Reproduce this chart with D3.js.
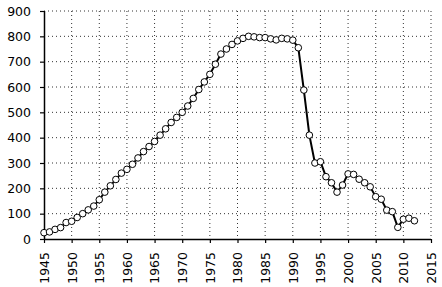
<!DOCTYPE html>
<html>
<head>
<meta charset="utf-8">
<script src="https://cdn.jsdelivr.net/npm/d3@7"></script>
<style>
  html, body { margin: 0; padding: 0; background: #fff; }
  svg { display: block; }
  text { font-family: "DejaVu Sans", sans-serif; font-size: 12.5px; fill: #000; }
</style>
</head>
<body>
<svg id="chart" width="442" height="287"></svg>
<script>
const years = d3.range(1945, 2013);
const values = [
  25, 28, 38, 45, 65, 70, 85, 100, 115, 130,
  155, 185, 210, 235, 260, 275, 295, 320, 345, 365,
  385, 410, 435, 460, 480, 500, 525, 555, 590, 620,
  650, 690, 730, 750, 768, 782, 792, 800, 798, 795,
  795, 790, 786, 792, 790, 785, 755, 588, 410, 300,
  305, 246, 222, 185, 213, 257, 255, 236, 222, 206,
  167, 157, 114, 108, 46, 78, 82, 72
];
const xTicks = d3.range(1945, 2016, 5);
const yTicks = d3.range(0, 901, 100);

(function () {
const svg = d3.select("#chart");
const mLeft = 44, mRight = 431, mTop = 11, mBottom = 239;
const x = d3.scaleLinear().domain([1945, 2015]).range([mLeft, mRight]);
const y = d3.scaleLinear().domain([0, 900]).range([mBottom, mTop]);

// gridlines
const grid = svg.append("g");
grid.selectAll("line.h").data(yTicks.filter(d => d > 0)).join("line")
  .attr("x1", mLeft).attr("x2", mRight)
  .attr("y1", d => y(d)).attr("y2", d => y(d))
  .attr("stroke", "#333").attr("stroke-width", 1).attr("stroke-dasharray", "1,3");
grid.selectAll("line.v").data(xTicks.filter(d => d > 1945)).join("line")
  .attr("y1", mTop).attr("y2", mBottom)
  .attr("x1", d => x(d)).attr("x2", d => x(d))
  .attr("stroke", "#333").attr("stroke-width", 1).attr("stroke-dasharray", "1,3");

// axes
const yAxis = d3.axisLeft(y).tickValues(yTicks).tickSize(4).tickPadding(9).tickFormat(d3.format("d"));
const gy = svg.append("g").attr("transform", `translate(${mLeft},0)`).call(yAxis);
const xAxis = d3.axisBottom(x).tickValues(xTicks).tickSize(4).tickFormat(d3.format("d"));
const gx = svg.append("g").attr("transform", `translate(0,${mBottom})`).call(xAxis);
[gx, gy].forEach(g => {
  g.select(".domain").attr("stroke", "#000").attr("stroke-width", 1.5);
  g.selectAll(".tick line").attr("stroke", "#000").attr("stroke-width", 1.2);
  g.selectAll("text").style("font-family", "DejaVu Sans, sans-serif").style("font-size", "12.5px").attr("fill", "#000");
});
gx.select(".domain").attr("d", `M${mLeft},0.5H${mRight}`);
gy.select(".domain").attr("d", `M0.5,${mBottom}V${mTop}`);
gx.selectAll("text")
  .attr("transform", "rotate(-90)")
  .attr("text-anchor", "end")
  .attr("x", -13)
  .attr("y", 0)
  .attr("dy", "0.35em");

// line + markers
const data = years.map((yr, i) => ({ yr, v: values[i] }));
const line = d3.line().x(d => x(d.yr)).y(d => y(d.v));
svg.append("path").datum(data).attr("d", line)
  .attr("fill", "none").attr("stroke", "#000").attr("stroke-width", 2);
svg.append("g").selectAll("circle").data(data).join("circle")
  .attr("cx", d => x(d.yr)).attr("cy", d => y(d.v)).attr("r", 3.3)
  .attr("fill", "#fff").attr("stroke", "#000").attr("stroke-width", 1);
})();
</script>
</body>
</html>
